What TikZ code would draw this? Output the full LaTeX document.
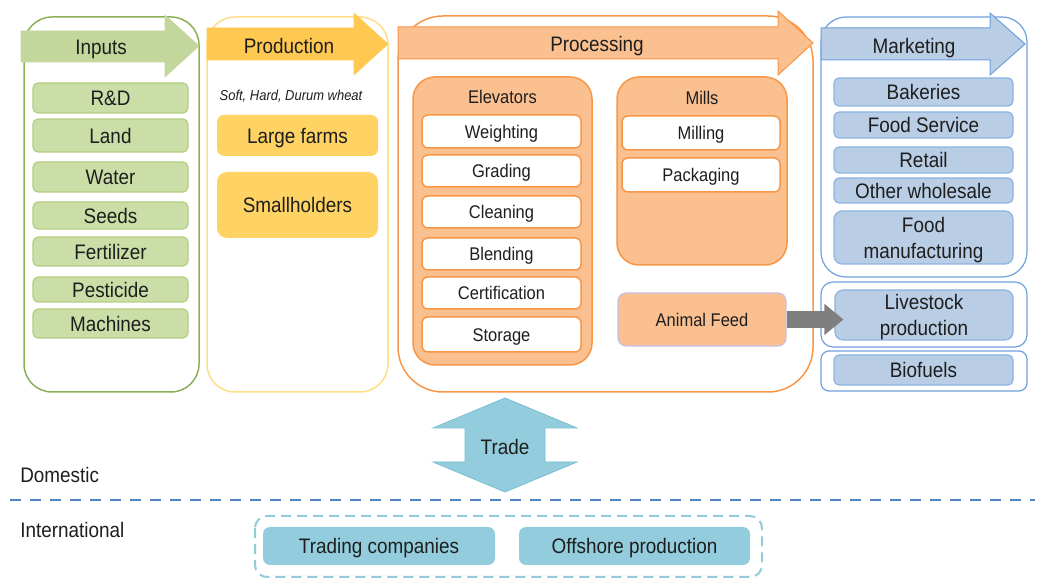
\documentclass[tikz,border=0pt]{standalone}
\usepackage{fontspec}
\setmainfont{Liberation Sans}[FakeStretch=0.9]
\usetikzlibrary{arrows.meta}

\newdimen\pxu \pxu=0.75pt
\newcommand\bigtxt{\fontsize{15.75}{19.5}\selectfont}
\newcommand\midtxt{\fontsize{13.75}{15}\selectfont}
\newcommand\smalltxt{\fontsize{10.8}{12}\selectfont}

\definecolor{txt}{RGB}{30,30,30}
\definecolor{gline}{RGB}{142,175,86}
\definecolor{garrow}{RGB}{195,214,155}
\definecolor{gfill}{RGB}{204,222,168}
\definecolor{gborder}{RGB}{178,206,128}
\definecolor{yline}{RGB}{255,222,135}
\definecolor{yarrow}{RGB}{255,200,80}
\definecolor{yfill}{RGB}{255,210,100}
\definecolor{oline}{RGB}{247,150,70}
\definecolor{ofill}{RGB}{250,192,144}
\definecolor{lavender}{RGB}{200,190,230}
\definecolor{bline}{RGB}{110,160,220}
\definecolor{bfill}{RGB}{185,205,229}
\definecolor{bborder}{RGB}{140,180,225}
\definecolor{tfill}{RGB}{147,205,221}
\definecolor{tline}{RGB}{120,190,210}
\definecolor{divline}{RGB}{80,130,200}
\definecolor{feedarrow}{RGB}{127,127,127}

\tikzset{
  every node/.style={text=txt, inner sep=0.75pt},
  bigfont/.style={font=\bigtxt, text height=11.3pt, text depth=0pt},
  midfont/.style={font=\midtxt, text height=9.85pt, text depth=0pt},
  twolines/.style={text height=30.8pt, text depth=0pt},
  gbox/.style={draw=gborder, fill=gfill, line width=1.2\pxu, rounded corners=5\pxu,
    minimum width=155\pxu, bigfont},
  pbox/.style={fill=yfill, rounded corners=7\pxu, minimum width=161\pxu, bigfont},
  ebox/.style={draw=oline, fill=ofill, line width=1.5\pxu, rounded corners=22\pxu},
  wbox/.style={draw=oline, fill=white, line width=1.5\pxu, rounded corners=6\pxu, midfont},
  bbox/.style={draw=bborder, fill=bfill, line width=1.2\pxu, rounded corners=5\pxu,
    minimum width=179\pxu, bigfont, align=center},
  tbox/.style={fill=tfill, rounded corners=7\pxu, minimum width=232\pxu,
    minimum height=38\pxu, bigfont}
}

\begin{document}
\begin{tikzpicture}[x=0.75pt,y=0.75pt,yscale=-1,xscale=1]
\useasboundingbox (0,0) rectangle (1039,580);

%Rounded Rect: Inputs
\draw [gline, line width=1.5\pxu, rounded corners=28\pxu] (24,17) rectangle (199,392);
%Right Arrow: Inputs
\draw [fill=garrow, draw=garrow] (21,31) -- (165,31) -- (165,15) -- (199,46) -- (165,77) -- (165,62) -- (21,62) -- cycle;
\node (inputs) at (101,47) [bigfont] {Inputs};

\node (rd) [gbox, minimum height=30\pxu] at (110.5,98) {R\&D};
\node (land) [gbox, minimum height=33\pxu] at (110.5,135.5) {Land};
\node (water) [gbox, minimum height=30\pxu] at (110.5,177) {Water};
\node (seeds) [gbox, minimum height=27\pxu] at (110.5,215.5) {Seeds};
\node (fert) [gbox, minimum height=29\pxu] at (110.5,251.5) {Fertilizer};
\node (pest) [gbox, minimum height=25\pxu] at (110.5,289.5) {Pesticide};
\node (mach) [gbox, minimum height=29\pxu] at (110.5,323.5) {Machines};

%Rounded Rect: Production
\draw [yline, line width=1.5\pxu, rounded corners=28\pxu] (207,17) rectangle (388,392);
%Right Arrow: Production
\draw [fill=yarrow, draw=yarrow] (207,28) -- (354,28) -- (354,13) -- (388,44) -- (354,75) -- (354,60) -- (207,60) -- cycle;
\node (production) at (289,46) [bigfont] {Production};

\node (wheat) at (291,95) [font=\smalltxt\itshape, text height=7.7pt, text depth=0pt] {Soft, Hard, Durum wheat};
\node (large) [pbox, minimum height=41\pxu] at (297.5,135.5) {Large farms};
\node (small) [pbox, minimum height=66\pxu, rounded corners=10\pxu] at (297.5,205) {Smallholders};

%Rounded Rect: Processing
\draw [oline, line width=1.5\pxu, rounded corners=45\pxu] (398,16) rectangle (813,392);
%Right Arrow: Processing
\draw [fill=ofill, draw=oline, line width=1\pxu] (398,27) -- (778,27) -- (778,11) -- (813,43) -- (778,75) -- (778,59) -- (398,59) -- cycle;
\node (processing) at (597,44) [bigfont] {Processing};

\node (elev) [ebox, minimum width=179\pxu, minimum height=288\pxu] at (502.5,221) {};
\node (elevlbl) at (502.5,97) [midfont] {Elevators};
\node (weigh) [wbox, minimum width=159\pxu, minimum height=33\pxu] at (501.5,131.5) {Weighting};
\node (grad) [wbox, minimum width=159\pxu, minimum height=32\pxu] at (501.5,171) {Grading};
\node (clean) [wbox, minimum width=159\pxu, minimum height=32\pxu] at (501.5,212) {Cleaning};
\node (blend) [wbox, minimum width=159\pxu, minimum height=32\pxu] at (501.5,254) {Blending};
\node (cert) [wbox, minimum width=159\pxu, minimum height=32\pxu] at (501.5,293) {Certification};
\node (store) [wbox, minimum width=159\pxu, minimum height=35\pxu] at (501.5,334.5) {Storage};

\node (mills) [ebox, minimum width=170\pxu, minimum height=188\pxu] at (702,171) {};
\node (millslbl) at (702,98) [midfont] {Mills};
\node (mill) [wbox, minimum width=158\pxu, minimum height=34\pxu] at (701,133) {Milling};
\node (pack) [wbox, minimum width=158\pxu, minimum height=34\pxu] at (701,175) {Packaging};

\node (feed) [draw=lavender, fill=ofill, line width=1.2\pxu, rounded corners=8\pxu,
  minimum width=168\pxu, minimum height=53\pxu, midfont] at (702,319.5) {Animal Feed};

%Rounded Rect: Marketing
\draw [bline, line width=1.2\pxu, rounded corners=25\pxu] (821,17) rectangle (1027,277);
%Right Arrow: Marketing
\draw [fill=bfill, draw=bline, line width=1\pxu] (821,28) -- (990,28) -- (990,13) -- (1025,44) -- (990,75) -- (990,60) -- (821,60) -- cycle;
\node (marketing) at (914,46) [bigfont] {Marketing};

\node (bake) [bbox, minimum height=28\pxu] at (923.5,92) {Bakeries};
\node (serv) [bbox, minimum height=26\pxu] at (923.5,125) {Food Service};
\node (retail) [bbox, minimum height=26\pxu] at (923.5,160) {Retail};
\node (whole) [bbox, minimum height=25\pxu] at (923.5,190.5) {Other wholesale};
\node (manu) [bbox, twolines, minimum height=53\pxu, rounded corners=8\pxu] at (923.5,237.5) {Food\\manufacturing};

%Rounded Rect: Livestock, Biofuels
\draw [bline, line width=1.2\pxu, rounded corners=12\pxu] (821,282) rectangle (1027,347);
\draw [bline, line width=1.2\pxu, rounded corners=8\pxu] (821,351) rectangle (1027,391);
\node (live) [bbox, twolines, minimum width=178\pxu, minimum height=50\pxu, rounded corners=8\pxu] at (924,315) {Livestock\\production};
\node (bio) [bbox, minimum height=30\pxu] at (923.5,370) {Biofuels};

%Feed arrow
\draw [feedarrow, line width=17\pxu, shorten >=-9\pxu,
  -{Triangle[length=14.25pt, width=22.5pt]}] (feed.east) -- (feed.east -| live.west);

%Double Arrow: Trade
\draw [fill=tfill, draw=tline, line width=0.8\pxu] (505,398) -- (577,428) -- (545,428) -- (545,462) -- (577,462) -- (505,492) -- (433,462) -- (465,462) -- (465,428) -- (433,428) -- cycle;
\node (trade) at (505,447) [bigfont] {Trade};

% Text Node
\node (dom) [anchor=west, bigfont] at (19,475) {Domestic};
\node (intl) [anchor=west, bigfont] at (19,530) {International};

%Dashed divider
\draw [divline, line width=2.5\pxu, dash pattern=on 11\pxu off 9\pxu] (10,500) -- (1035,500);

%Dashed Rounded Rect: International
\draw [tline!80, line width=2\pxu, dash pattern=on 10\pxu off 6\pxu, rounded corners=12\pxu] (255,516) rectangle (762,577);
\node (trading) [tbox] at (379,546) {Trading companies};
\node (offshore) [tbox, minimum width=231\pxu] at (634.5,546) {Offshore production};

\end{tikzpicture}
\end{document}
